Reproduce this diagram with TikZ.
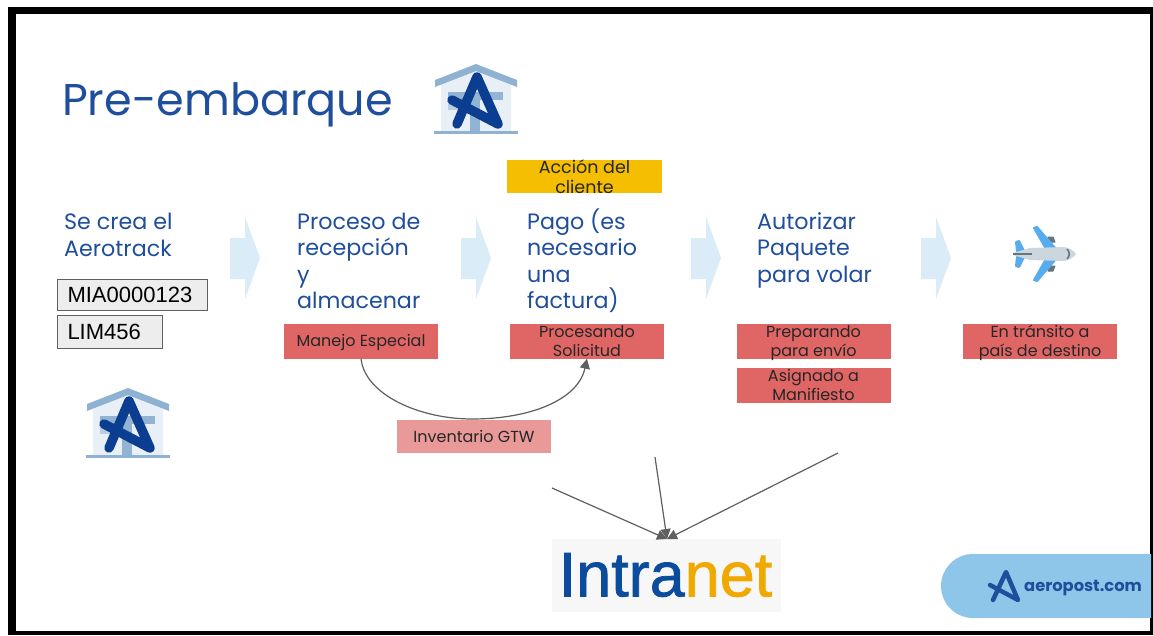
\documentclass[tikz,border=0pt]{standalone}
\usepackage{fontspec}
\setmainfont{Poppins}
\newfontfamily\arialf{Liberation Sans}
\newfontfamily\intraf[FakeBold=1.2]{Liberation Sans}
\newcommand{\twolines}[2]{\smash{\raisebox{3.25pt}{\begin{tabular}[t]{@{}c@{}}#1\\#2\end{tabular}}}}
\definecolor{navy}{HTML}{1F4E9C}
\definecolor{redbox}{HTML}{E06666}
\definecolor{pinkbox}{HTML}{EA9999}
\definecolor{yellowbox}{HTML}{F5BE00}
\definecolor{chev}{HTML}{D9ECF7}
\definecolor{linegray}{HTML}{5F5F5F}
\definecolor{pill}{HTML}{8EC6EA}
\definecolor{logoA}{HTML}{0B3D91}
\definecolor{roofc}{HTML}{8FB2D3}
\definecolor{wallc}{HTML}{E8EFF7}
\definecolor{midc}{HTML}{93B3D2}
\definecolor{intrablue}{HTML}{0B4C9C}
\definecolor{intraorange}{HTML}{EFA900}
\definecolor{wingc}{HTML}{55ACEE}
\definecolor{bodyc}{HTML}{CCD6DD}
\definecolor{darkc}{HTML}{66757F}
\usetikzlibrary{arrows.meta}
\tikzset{
 x=1pt,y=-1pt,
 steptext/.style={anchor=north west,align=left,text=navy,font=\fontsize{22.2}{26.5}\selectfont,inner sep=0pt},
 statebox/.style={fill=redbox,minimum width=154,minimum height=35,inner sep=0pt,align=center,text=black!85,font=\fontsize{16}{19}\selectfont},
 codebox/.style={draw=linegray,fill=black!7,anchor=west,inner ysep=0pt,inner xsep=10pt,align=left,font=\arialf\fontsize{22}{24}\selectfont,line width=1pt},
 connect/.style={draw=linegray,line width=1.2pt,-{Triangle[length=10pt,width=10pt]}},
 chevron/.style={fill=chev},
 house/.pic={
  \fill[wallc] (-35,-16) -- (0,-31) -- (35,-16) -- (35,31) -- (-35,31) -- cycle;
  \fill[midc!55!wallc] (-28,-1) rectangle (-6,9);
  \fill[midc] (-28,-9) rectangle (27,-1);
  \fill[midc] (-6,-9) rectangle (4,31);
  \fill[roofc] (-41,-21) -- (0,-37) -- (41,-21) -- (41,-14) -- (0,-30) -- (-41,-14) -- cycle;
  \fill[roofc] (-42,30) rectangle (42,33);
  \draw[logoA,line width=9.5pt,line cap=round,line join=round] (-19,23) -- (1,-24) -- (22,23) -- (-24,-1);
 },
 miniA/.pic={
  \draw[navy,line width=4.5pt,line cap=round,line join=round] (-11,13) -- (2,-15) -- (14,13) -- (-14,-2);
 }
}
\begin{document}
\begin{tikzpicture}
\useasboundingbox (0,0) rectangle (1153,635);
\fill[white] (0,0) rectangle (1153,635);
\fill[black] (8,7) rectangle (1153,635);
\fill[white] (16,14) rectangle (1150,631);
\node[anchor=west,text=navy,inner sep=0pt,font=\fontsize{44.5}{50}\selectfont] (title) at (62,105) {Pre-embarque};
\pic at (476,101) {house};
\pic at (128,425) {house};
\node[fill=yellowbox,minimum width=155,minimum height=33,inner sep=0pt,align=center,text=black!85,font=\fontsize{17.5}{20}\selectfont] (accion) at (584.5,176.5) {Acción del\\cliente};
\node[steptext] (s1) at (64,213) {Se crea el\\Aerotrack};
\node[steptext] (s2) at (297,212.5) {Proceso de\\recepción\\y\\almacenar};
\node[steptext] (s3) at (527,208.5) {Pago (es\\necesario\\una\\factura)};
\node[steptext] (s4) at (757,212) {Autorizar\\Paquete\\para volar};
\foreach \x in {230,461,691,921}{
 \fill[chevron] (\x,238) -- (\x+15,238) -- (\x+15,217) -- (\x+30,258) -- (\x+15,299) -- (\x+15,279) -- (\x,279) -- cycle;
}
\node[codebox,text width=130,minimum height=31] (mia) at (57,294.5) {MIA0000123};
\node[codebox,text width=85,minimum height=33] (lim) at (57,331.5) {LIM456};
\node[statebox] (manejo) at (361,341) {\smash{\raisebox{-5pt}{Manejo Especial}}};
\node[statebox] (proc) at (587,341) {\twolines{Procesando}{Solicitud}};
\node[statebox] (prep) at (813.5,341) {\twolines{Preparando}{para envío}};
\node[statebox] (asig) at (813.5,385) {\twolines{Asignado a}{Manifiesto}};
\node[statebox] (trans) at (1040,341) {\twolines{En tránsito a}{país de destino}};
\draw[connect] (manejo.south) .. controls (365,395) and (420,419) .. (472,419) .. controls (530,419) and (578,400) .. (proc.south);
\node[fill=pinkbox,minimum width=154,minimum height=33,inner sep=0pt,text=black!85,font=\fontsize{16}{18}\selectfont] (inv) at (474,436) {Inventario GTW};
% Intranet
\fill[black!3] (552,539) rectangle (781,612);
\node[inner sep=0pt,anchor=center,font=\intraf\fontsize{63}{70}\selectfont] (intra) at (665.5,575) {\textcolor{intrablue}{Intra}\textcolor{intraorange}{net}};
\coordinate (a1) at (552,488);
\coordinate (a2) at (655,457);
\coordinate (a3) at (838,453);
\coordinate (tip) at (667,539);
\draw[connect] (a1) -- (tip);
\draw[connect] (a2) -- (tip);
\draw[connect] (a3) -- (tip);
% plane
\begin{scope}[shift={(1044,254)}]
 \fill[darkc,draw=darkc,line width=1pt,line join=round] (4,-17) -- (9,-17) -- (11,-12) -- (6,-12) -- cycle;
 \fill[darkc,draw=darkc,line width=1pt,line join=round] (4,17) -- (9,17) -- (11,12) -- (6,12) -- cycle;
 \fill[wingc,draw=wingc,line width=2pt,line join=round] (-10,-26) -- (-7,-27) -- (12,-5) -- (2,-5) -- cycle;
 \fill[wingc,draw=wingc,line width=2pt,line join=round] (-10,26) -- (-7,27) -- (12,5) -- (2,5) -- cycle;
 \fill[wingc,draw=wingc,line width=2pt,line join=round] (-28,-12) -- (-25,-13) -- (-20,-3) -- (-27,-3) -- cycle;
 \fill[wingc,draw=wingc,line width=2pt,line join=round] (-28,12) -- (-25,13) -- (-20,3) -- (-27,3) -- cycle;
 \fill[bodyc] (-31,-1) -- (-14,-6) -- (20,-7) .. controls (26,-6) and (30,-3) .. (32,0) .. controls (30,3) and (26,6) .. (20,7) -- (-14,6) -- (-31,1) -- cycle;
 \draw[darkc,line width=1.6pt] (-31,0) -- (-12,0);
 \draw[darkc,line width=1.6pt] (23,-5) .. controls (26,-2) and (26,2) .. (23,5);
\end{scope}
% aeropost pill
\fill[pill] (1151,554) -- (973,554) arc[start angle=-90,end angle=-270,radius=32] -- (1151,618) -- cycle;
\pic at (1004,587) {miniA};
\node[anchor=west,inner sep=0pt,text=navy,font=\fontsize{16.3}{20}\selectfont\bfseries] (aero) at (1024,588.5) {aeropost.com};
\end{tikzpicture}
\end{document}
